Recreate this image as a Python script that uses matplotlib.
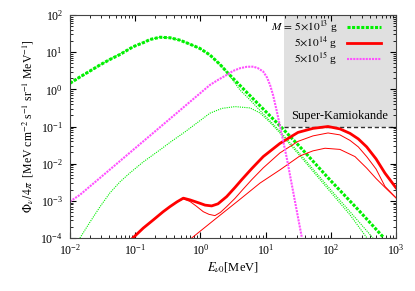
import numpy as np
import matplotlib
matplotlib.use('Agg')
import matplotlib.pyplot as plt

plt.rcParams['font.family'] = ['Liberation Serif', 'DejaVu Serif']
plt.rcParams['mathtext.fontset'] = 'stix'
plt.rcParams['font.size'] = 8

# M = 5e13 g (green): total and the two components
g_tot_e = [0.01, 0.0142, 0.0203, 0.0288, 0.041, 0.0584, 0.0934, 0.1415, 0.168, 0.24, 0.342, 0.487,
           0.692, 0.984, 1.4, 2.0, 2.63, 4.05, 6.35, 9.84, 16.6, 33.7, 97, 264, 630]
g_tot = [1.456, 2.15, 3.12, 4.53, 6.37, 8.67, 14.06, 18.8, 21.9, 25.2, 24.4, 21.0,
         16.4, 12.6, 8.4, 4.67, 2.76, 1.27, 0.569, 0.262, 0.104, 0.0283, 3.67e-3, 5.73e-4, 1.08e-4]
g_a_e = [0.01, 0.0203, 0.041, 0.0934, 0.168, 0.24, 0.342, 0.487, 0.692, 0.984, 1.4, 2.0, 2.63,
         4.05, 5.77, 8.2, 11.7, 16.6, 33.7, 97, 197, 444]
g_a = [1.456, 3.12, 6.37, 14.06, 21.9, 25.2, 24.4, 21.0, 16.4, 12.6, 8.4, 4.67, 2.7,
       0.96, 0.52, 0.271, 0.1415, 0.0738, 0.0183, 2.1e-3, 5.1e-4, 1.0e-4]
g_b_e = [0.0142, 0.0203, 0.0288, 0.041, 0.0584, 0.0832, 0.133, 0.24, 0.342, 0.58, 0.887, 1.4, 2.14,
         3.4, 5.77, 8.2, 11.7, 16.6, 33.7, 97, 197, 359]
g_b = [1e-4, 2.7e-4, 6.9e-4, 1.64e-3, 3.24e-3, 5.66e-3, 0.01117, 0.0235, 0.0374, 0.0716, 0.125, 0.228, 0.307,
       0.343, 0.316, 0.232, 0.129, 0.067, 0.0162, 1.8e-3, 4.2e-4, 1.0e-4]

# M = 5e14 g (red): total and the two components
r_tot_e = [0.0925, 0.133, 0.19, 0.267, 0.342, 0.438, 0.547, 0.692, 0.984, 1.18, 1.49, 1.86, 2.53, 3.4,
           4.3, 6.18, 9.2, 16.6, 31.4, 53.3, 90.6, 138, 197, 264, 355, 494, 677, 1000]
r_tot = [1.01e-4, 1.85e-4, 3.08e-4, 5.06e-4, 7.0e-4, 9.4e-4, 1.18e-3, 1.06e-3, 8.6e-4, 7.66e-4, 7.3e-4, 8.3e-4, 1.3e-3, 2.3e-3,
         3.7e-3, 7.48e-3, 0.0155, 0.0351, 0.0693, 0.089, 0.1, 0.0862, 0.0653, 0.0464, 0.0283, 0.01346, 5.56e-3, 2.24e-3]
r_c_e = [0.0925, 0.133, 0.19, 0.267, 0.342, 0.438, 0.547, 0.692, 0.857, 1.107, 1.355, 1.67, 2.03, 2.53, 3.4,
         4.5, 6.12, 9.2, 16.6, 31.4, 53.3, 90.6, 138, 197, 264, 355, 494, 677, 1000]
r_c = [1.01e-4, 1.85e-4, 3.08e-4, 5.06e-4, 7.0e-4, 9.4e-4, 1.13e-3, 9.6e-4, 7.3e-4, 5.1e-4, 4.33e-4, 4.0e-4, 4.9e-4, 7.0e-4, 1.17e-3,
       2.04e-3, 3.7e-3, 7.7e-3, 0.0195, 0.0398, 0.0559, 0.067, 0.0595, 0.0423, 0.0283, 0.0155, 7.2e-3, 2.45e-3, 1.2e-3]
r_d_e = [0.736, 1.67, 4.05, 8.2, 16.6, 33.7, 53.3, 81.5, 138, 235, 355, 494, 677, 1000]
r_d = [1e-4, 3.18e-4, 1.1e-3, 3.0e-3, 6.8e-3, 0.0162, 0.0221, 0.026, 0.0242, 0.0155, 7.6e-3, 4.0e-3, 2.3e-3, 1.2e-3]

# M = 5e15 g (magenta)
m_e = [0.01, 0.0142, 0.0288, 0.0832, 0.24, 0.692, 1.4, 1.86, 2.53, 3.16, 4.05, 5.19, 6.5, 7.64, 9.2,
       10.5, 11.7, 13.0, 14.7, 16.6, 21.1, 26.3, 35.8]
m_f = [9.6e-4, 1.45e-3, 4.13e-3, 0.0199, 0.0957, 0.461, 1.31, 1.79, 2.44, 3.12, 3.7, 4.05, 4.07, 3.71, 3.0,
       2.09, 1.31, 0.707, 0.279, 0.104, 0.0143, 1.86e-3, 1.07e-4]

# Super-Kamiokande region
sk_emin, sk_emax = 19, 1000
sk_flux, sk_top = 0.1, 100

labels = [r'$M\,=\,5{\times}10^{13}$ g', r'$5{\times}10^{14}$ g', r'$5{\times}10^{15}$ g']

fig = plt.figure(figsize=(4.15, 2.91), dpi=100)
ax = fig.add_axes([70/415, 53/291, 326/415, 223/291])

ax.fill_between([sk_emin, sk_emax], sk_flux, sk_top, color='#e0e0e0', lw=0, zorder=0)
ax.hlines(sk_flux, sk_emin, sk_emax, colors='#333333', linestyles=(0, (3, 2)), lw=1, zorder=1)
ax.text(138, 0.195, 'Super-Kamiokande', ha='center', va='center', fontsize=9)

green = '#00f000'
red = '#ff0000'
mag = '#ff50ff'

ax.plot(g_a_e, g_a, color=green, lw=0.8, ls=(0, (1, 1)))
ax.plot(g_b_e, g_b, color=green, lw=0.8, ls=(0, (1, 1)))
l1, = ax.plot(g_tot_e, g_tot, color=green, lw=2.2, ls=(0, (1, 0.5)))

ax.plot(r_c_e, r_c, color=red, lw=0.7)
ax.plot(r_d_e, r_d, color=red, lw=0.7)
l2, = ax.plot(r_tot_e, r_tot, color=red, lw=2.0)

l3, = ax.plot(m_e, m_f, color=mag, lw=1.5, ls=(0, (1, 0.5)))

ax.set_xscale('log')
ax.set_yscale('log')
ax.set_xlim(1e-2, 1e3)
ax.set_ylim(1e-4, 1e2)

ax.tick_params(which='both', direction='in', top=True, right=True, labelsize=8.5)
ax.tick_params(which='major', length=4)
ax.tick_params(which='minor', length=2)
ax.tick_params(axis='y', pad=5)
for s in ax.spines.values():
    s.set_color('#444444')

ax.set_xlabel(r'$E_{\nu 0}$[MeV]', fontsize=9, labelpad=2)
ax.set_ylabel(r'$\Phi_\nu\,/4\pi$  [MeV cm$^{-2}$ s$^{-1}$ sr$^{-1}$ MeV$^{-1}$]', fontsize=8.5, labelpad=3)

leg = ax.legend([l1, l2, l3], labels, loc='upper right', bbox_to_anchor=(0.978, 1.018),
                frameon=False, markerfirst=False,
                handlelength=3.0, handletextpad=0.8, labelspacing=-0.05, fontsize=8.2,
                borderaxespad=0.3)

fig.savefig('out.png', dpi=100)
